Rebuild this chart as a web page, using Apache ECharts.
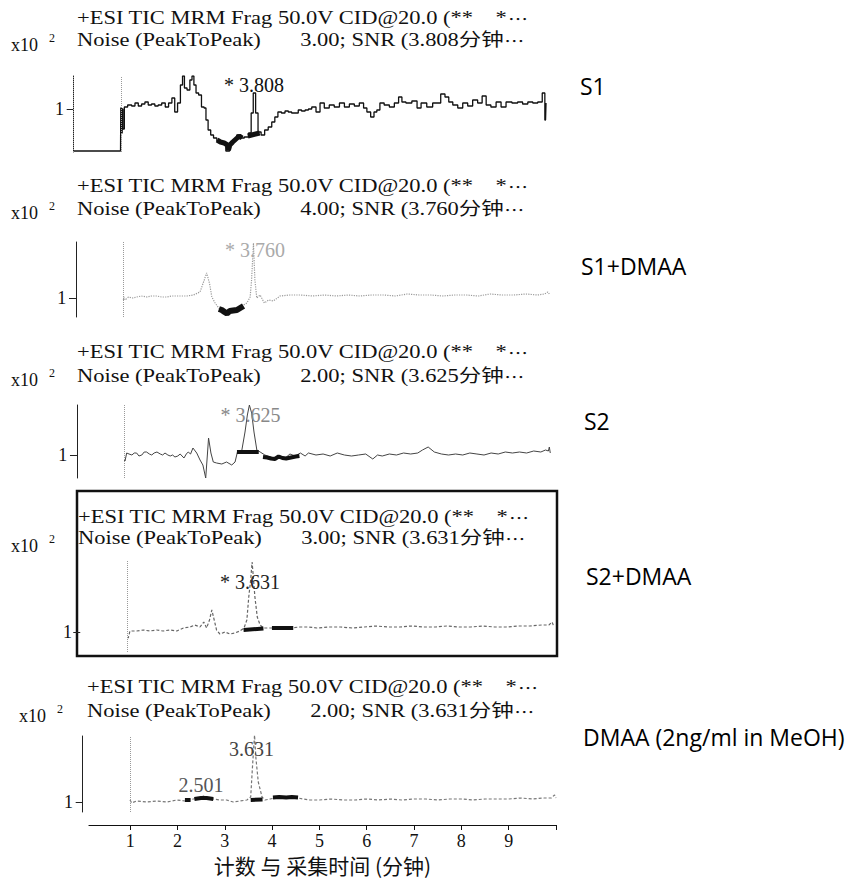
<!DOCTYPE html>
<html><head><meta charset="utf-8">
<script src="https://cdn.jsdelivr.net/npm/echarts@6/dist/echarts.min.js"></script>
<style>html,body{margin:0;padding:0;background:#fff}#c{width:857px;height:878px}</style>
</head><body><div id="c"></div>
<script>
// ---------------- DATA ----------------
const panelNames = ['S1', 'S1+DMAA', 'S2', 'S2+DMAA', 'DMAA (2ng/ml in MeOH)'];
const noiseValues = ['3.00', '4.00', '2.00', '3.00', '2.00'];
const snrTimes = ['3.808', '3.760', '3.625', '3.631', '3.631'];
const peakTimes = [3.808, 3.760, 3.625, 3.631, 3.631];
const peakHeights = [1.16, 1.55, 1.50, 1.70, 1.65];
const peakLabels = ['* 3.808', '* 3.760', '* 3.625', '* 3.631', '3.631'];
const minorPeakTime = 2.501, minorPeakHeight = 1.06, minorPeakLabel = '2.501';
const xTickLabels = [1, 2, 3, 4, 5, 6, 7, 8, 9];
const xTickMarks = [1, 2, 3, 4, 5, 6, 7, 8, 9, 10];
const yTickValues = [1];
const xAxisTitle = '计数 与 采集时间 (分钟)';

// S1
const p1Time = [0.0, 0.99, 1.00, 1.02, 1.03, 1.05, 1.09, 1.19, 1.26, 1.33,
  1.40, 1.47, 1.54, 1.61, 1.68, 1.75, 1.82, 1.90, 1.97, 2.04,
  2.11, 2.16, 2.23, 2.28, 2.32, 2.36, 2.43, 2.48, 2.52, 2.56,
  2.61, 2.67, 2.73, 2.78, 2.81, 2.87, 2.92, 2.99, 3.06, 3.16,
  3.27, 3.32, 3.41, 3.48, 3.55, 3.66, 3.73, 3.77, 3.818, 3.87,
  3.92, 4.00, 4.07, 4.15, 4.22, 4.28, 4.35, 4.43, 4.50, 4.57,
  4.64, 4.71, 4.78, 4.85, 4.93, 4.99, 5.07, 5.17, 5.24, 5.35,
  5.45, 5.56, 5.67, 5.77, 5.88, 5.98, 6.09, 6.16, 6.23, 6.32,
  6.37, 6.44, 6.50, 6.62, 6.72, 6.83, 6.90, 6.97, 7.07, 7.22,
  7.29, 7.39, 7.53, 7.64, 7.71, 7.80, 7.89, 7.96, 8.06, 8.17,
  8.27, 8.38, 8.48, 8.59, 8.67, 8.76, 8.87, 8.98, 9.08, 9.19,
  9.33, 9.43, 9.54, 9.65, 9.75, 9.86, 9.94, 9.97, 9.99];
const p1Value = [0.58, 0.58, 1.01, 0.76, 1.00, 0.80, 1.02, 1.04, 1.03, 1.06,
  1.03, 1.05, 1.07, 1.04, 1.05, 1.03, 1.04, 1.06, 1.02, 1.06,
  1.11, 0.97, 1.06, 1.24, 1.33, 1.21, 1.19, 1.29, 1.33, 1.24,
  1.16, 1.14, 1.02, 1.01, 0.89, 0.79, 0.74, 0.71, 0.68, 0.66,
  0.58, 0.65, 0.69, 0.74, 0.71, 0.72, 0.76, 0.96, 1.16, 0.96,
  0.77, 0.74, 0.79, 0.82, 0.87, 0.92, 0.97, 0.96, 0.98, 0.97,
  0.96, 0.96, 0.99, 0.98, 0.99, 1.00, 1.02, 0.97, 1.06, 1.01,
  1.04, 1.02, 1.06, 1.02, 1.05, 1.03, 1.06, 1.01, 0.97, 0.92,
  0.97, 0.99, 1.06, 1.04, 1.02, 1.06, 1.12, 1.07, 1.06, 1.08,
  1.01, 1.06, 1.02, 1.06, 1.06, 1.15, 1.12, 1.07, 1.04, 1.01,
  1.06, 1.03, 1.09, 1.06, 1.13, 1.04, 1.02, 1.07, 1.02, 1.07,
  1.06, 1.07, 1.05, 1.07, 1.06, 1.07, 1.16, 0.89, 1.06];
const p1BandTime = [3.03, 3.10, 3.18, 3.25, 3.27, 3.30, 3.36, 3.43, 3.50, 3.56, 3.60, 3.68, 3.93];
const p1BandValue = [0.69, 0.67, 0.66, 0.64, 0.59, 0.64, 0.67, 0.70, 0.73, 0.71, null, 0.73, 0.76];

// S1+DMAA
const p2Time = [1.00, 1.015, 1.04, 1.11, 1.20, 1.28, 1.38, 1.50, 1.60, 1.71,
  1.81, 1.92, 2.02, 2.13, 2.23, 2.34, 2.48, 2.62, 2.71, 2.76,
  2.82, 2.87, 2.94, 3.03, 3.11, 3.19, 3.26, 3.36, 3.47, 3.54,
  3.61, 3.68, 3.71, 3.75, 3.78, 3.82, 3.89, 3.98, 4.07, 4.17,
  4.31, 4.52, 4.74, 5.00, 5.25, 5.50, 5.75, 6.00, 6.25, 6.50,
  6.75, 7.00, 7.25, 7.50, 7.75, 8.00, 8.25, 8.50, 8.75, 9.00,
  9.25, 9.50, 9.75, 9.90, 9.97, 10.0];
const p2Value = [0.98, 1.01, 0.98, 1.01, 1.00, 1.01, 1.02, 1.01, 1.02, 1.02,
  1.01, 1.01, 1.02, 1.02, 1.02, 1.02, 1.03, 1.06, 1.18, 1.25,
  1.15, 1.01, 0.95, 0.89, 0.88, 0.85, 0.88, 0.89, 0.91, 0.93,
  0.95, 1.01, 1.18, 1.55, 1.18, 1.00, 1.03, 0.95, 0.98, 0.97,
  1.02, 1.03, 1.03, 1.02, 1.03, 1.02, 1.03, 1.02, 1.03, 1.03,
  1.02, 1.04, 1.03, 1.03, 1.02, 1.03, 1.03, 1.02, 1.04, 1.03,
  1.03, 1.04, 1.03, 1.04, 1.06, 1.04];
const p2BandTime = [3.02, 3.08, 3.14, 3.19, 3.25, 3.32, 3.40, 3.47, 3.54];
const p2BandValue = [0.89, 0.88, 0.86, 0.845, 0.87, 0.875, 0.88, 0.90, 0.92];

// S2
const p3Time = [1.00, 1.015, 1.05, 1.10, 1.16, 1.21, 1.26, 1.31, 1.37, 1.42,
  1.47, 1.53, 1.58, 1.63, 1.69, 1.76, 1.81, 1.86, 1.92, 1.97,
  2.02, 2.07, 2.13, 2.18, 2.26, 2.31, 2.35, 2.40, 2.45, 2.53,
  2.60, 2.66, 2.72, 2.755, 2.78, 2.83, 2.88, 2.95, 3.06, 3.16,
  3.27, 3.34, 3.39, 3.48, 3.55, 3.60, 3.643, 3.69, 3.74, 3.80,
  3.87, 3.97, 4.08, 4.19, 4.29, 4.40, 4.50, 4.61, 4.72, 4.82,
  4.89, 5.05, 5.20, 5.35, 5.50, 5.65, 5.80, 5.95, 6.10, 6.25,
  6.35, 6.45, 6.60, 6.75, 6.90, 7.05, 7.20, 7.30, 7.42, 7.55,
  7.70, 7.85, 8.00, 8.15, 8.30, 8.45, 8.60, 8.75, 8.90, 9.05,
  9.20, 9.35, 9.50, 9.65, 9.80, 9.90, 9.96, 9.98, 10.0];
const p3Value = [0.95, 0.94, 1.02, 1.01, 1.00, 1.02, 1.02, 0.99, 1.00, 1.03,
  1.03, 1.01, 1.00, 1.02, 1.03, 1.01, 1.00, 1.02, 1.00, 0.99,
  1.00, 0.98, 0.99, 1.01, 0.97, 1.01, 1.03, 1.01, 1.07, 1.02,
  0.95, 0.90, 0.77, 1.00, 1.17, 1.02, 0.93, 0.92, 0.91, 0.93,
  0.90, 0.93, 1.03, 1.04, 1.23, 1.40, 1.50, 1.42, 1.23, 1.05,
  1.03, 1.00, 0.98, 0.97, 0.99, 0.97, 1.01, 0.99, 1.02, 0.99,
  1.02, 1.00, 1.01, 0.99, 1.02, 1.00, 0.99, 1.00, 1.01, 0.96,
  1.00, 0.99, 1.01, 1.00, 1.02, 1.01, 1.02, 1.05, 1.08, 1.03,
  1.01, 1.00, 1.01, 1.00, 1.02, 1.01, 1.00, 1.02, 1.01, 1.03,
  1.02, 1.03, 1.02, 1.04, 1.03, 1.05, 1.04, 1.08, 1.02];
const p3BandTime = [3.38, 3.84, 3.88, 3.93, 4.02, 4.10, 4.18, 4.26, 4.34, 4.42, 4.52, 4.62, 4.70];
const p3BandValue = [1.03, 1.03, null, 0.98, 0.975, 0.965, 0.96, 0.985, 0.97, 0.965, 0.975, 0.985, 0.99];

// S2+DMAA
const p4Time = [1.00, 1.014, 1.05, 1.19, 1.33, 1.47, 1.61, 1.75, 1.89, 2.04,
  2.18, 2.32, 2.42, 2.53, 2.61, 2.67, 2.73, 2.78, 2.83, 2.88,
  2.95, 3.06, 3.16, 3.27, 3.37, 3.46, 3.52, 3.56, 3.60, 3.631,
  3.69, 3.74, 3.80, 3.87, 3.97, 4.08, 4.22, 4.43, 4.64, 4.82,
  5.00, 5.25, 5.50, 5.75, 6.00, 6.25, 6.50, 6.75, 7.00, 7.25,
  7.50, 7.75, 8.00, 8.25, 8.50, 8.75, 9.00, 9.25, 9.50, 9.75,
  9.90, 9.97, 10.0];
const p4Value = [0.95, 0.94, 1.01, 1.01, 1.02, 1.01, 1.02, 1.01, 1.02, 1.01,
  1.04, 1.05, 1.07, 1.05, 1.10, 1.04, 1.12, 1.22, 1.12, 1.02,
  0.98, 1.00, 0.98, 0.99, 1.01, 1.04, 1.12, 1.35, 1.52, 1.70,
  1.35, 1.15, 1.07, 1.04, 1.04, 1.04, 1.04, 1.04, 1.05, 1.05,
  1.04, 1.05, 1.05, 1.04, 1.05, 1.06, 1.05, 1.05, 1.06, 1.05,
  1.05, 1.06, 1.05, 1.05, 1.06, 1.05, 1.05, 1.06, 1.06, 1.07,
  1.07, 1.10, 1.06];
const p4BandTime = [3.45, 3.87, 3.95, 4.05, 4.50];
const p4BandValue = [1.02, 1.035, null, 1.04, 1.04];

// DMAA standard
const p5Time = [1.00, 1.035, 1.14, 1.35, 1.56, 1.78, 1.99, 2.16, 2.34, 2.48,
  2.55, 2.62, 2.76, 2.90, 3.04, 3.18, 3.33, 3.47, 3.55, 3.59,
  3.631, 3.66, 3.71, 3.79, 3.85, 3.96, 4.07, 4.24, 4.45, 4.66,
  4.80, 5.00, 5.25, 5.50, 5.75, 6.00, 6.25, 6.50, 6.75, 7.00,
  7.25, 7.50, 7.75, 8.00, 8.25, 8.50, 8.75, 9.00, 9.25, 9.50,
  9.75, 9.90, 9.97, 10.0];
const p5Value = [1.02, 0.99, 1.01, 1.00, 1.01, 1.00, 1.02, 1.01, 1.03, 1.04,
  1.06, 1.04, 1.03, 1.02, 1.02, 1.00, 1.01, 1.02, 1.05, 1.37,
  1.67, 1.44, 1.20, 1.05, 1.02, 1.03, 1.04, 1.04, 1.05, 1.03,
  1.02, 1.02, 1.03, 1.02, 1.02, 1.03, 1.02, 1.03, 1.02, 1.03,
  1.03, 1.02, 1.03, 1.03, 1.02, 1.03, 1.03, 1.03, 1.04, 1.03,
  1.04, 1.04, 1.07, 1.04];
const p5BandTime = [2.16, 2.28, 2.32, 2.36, 2.50, 2.62, 2.76, 2.80, 3.55, 3.80, 3.85, 4.02, 4.15, 4.30, 4.42, 4.55];
const p5BandValue = [1.02, 1.02, null, 1.03, 1.04, 1.04, 1.03, null, 1.02, 1.025, null, 1.045, 1.05, 1.045, 1.05, 1.045];

// ---------------- LAYOUT / STYLE ----------------
const FONT_SERIF = "'Liberation Serif', 'Noto Sans CJK SC', serif";
const FONT_CJK = "'Noto Sans CJK SC', sans-serif";
const FONT_LABEL = "'Open Sans', sans-serif";
const PX_PER_MIN = 47.33;

const L = {
  gridLeft: [68, 70.3, 71.3, 76, 77],
  xMin: [-0.12, -0.12, -0.12, -0.09, -0.12],
  xMax: 10,
  gridTop: [76, 242, 405, 560, 736],
  gridHeight: [76, 75, 73, 92, 76],
  yMin: [0.57, 0.81, 0.77, 0.80, 0.90],
  yMax: [1.33, 1.56, 1.50, 1.72, 1.66],
  showAxisLine: [true, true, true, false, true],
  titleX: [77, 77, 77, 78, 87],
  line1Y: [18, 186, 352, 517, 687],
  line2Y: [40, 209, 376, 538, 711],
  titleScaleX: 1.25,
  x10X: [11, 11, 11, 11, 19],
  x10Y: [45, 213, 380, 546, 716],
  nameX: [580, 581, 584, 586, 583],
  nameY: [86, 266, 421, 576, 737],
  lineColor: ['#111', '#9a9a9a', '#444', '#666', '#777'],
  lineWidth: [1.3, 1.2, 1, 1.2, 1.2],
  lineType: ['solid', 'dotted', 'solid', [3, 2], [3, 2]],
  bandWidth: [5, 6, 4, 4, 4],
  peakColor: ['#111', '#aaa', '#888', '#222', '#444'],
  peakOffset: [[0, -8], [1, 7], [2, 10], [-2, 20], [-3, 12]],
  minorOffset: [0, -11]
};

const traces = [
  [p1Time, p1Value, p1BandTime, p1BandValue],
  [p2Time, p2Value, p2BandTime, p2BandValue],
  [p3Time, p3Value, p3BandTime, p3BandValue],
  [p4Time, p4Value, p4BandTime, p4BandValue],
  [p5Time, p5Value, p5BandTime, p5BandValue]
];

function pairs(t, v) { return t.map((x, i) => [x, v[i] == null ? '-' : v[i]]); }

const grids = [], xAxes = [], yAxes = [], series = [], graphics = [];
for (let i = 0; i < 5; i++) {
  grids.push({ left: L.gridLeft[i], top: L.gridTop[i], width: (L.xMax - L.xMin[i]) * PX_PER_MIN, height: L.gridHeight[i] });
  xAxes.push({ gridIndex: i, type: 'value', min: L.xMin[i], max: L.xMax, show: false });
  yAxes.push({
    gridIndex: i, type: 'value', min: L.yMin[i], max: L.yMax[i],
    axisLine: { show: L.showAxisLine[i], lineStyle: { color: '#222', width: 1 } },
    axisTick: { show: true, customValues: yTickValues, length: 7, lineStyle: { color: '#222' } },
    axisLabel: { show: true, customValues: yTickValues, fontFamily: FONT_SERIF, fontSize: 18, color: '#111', margin: 4 },
    splitLine: { show: false }
  });
  const mlData = [{ xAxis: 1 }];
  if (i === 0) mlData.push({ xAxis: 0 });
  const mpData = [{
    coord: [peakTimes[i], peakHeights[i]],
    label: { formatter: peakLabels[i], color: L.peakColor[i], offset: L.peakOffset[i] }
  }];
  if (i === 4) mpData.push({
    coord: [minorPeakTime, minorPeakHeight],
    label: { formatter: minorPeakLabel, color: '#555', offset: L.minorOffset }
  });
  series.push({
    type: 'line', xAxisIndex: i, yAxisIndex: i, data: pairs(traces[i][0], traces[i][1]),
    symbol: 'none', step: i === 0 ? 'middle' : false, clip: true,
    lineStyle: { color: L.lineColor[i], width: L.lineWidth[i], type: L.lineType[i] },
    markLine: {
      silent: true, symbol: 'none', label: { show: false },
      lineStyle: { color: '#999', width: 1, type: 'dotted' }, data: mlData
    },
    markPoint: {
      symbol: 'circle', symbolSize: 1, itemStyle: { color: 'rgba(0,0,0,0)' },
      label: { show: true, position: 'inside', fontFamily: FONT_SERIF, fontSize: 20 },
      data: mpData
    },
    z: 2
  });
  series.push({
    type: 'line', xAxisIndex: i, yAxisIndex: i, data: pairs(traces[i][2], traces[i][3]),
    symbol: 'none', lineStyle: { color: '#111', width: L.bandWidth[i] }, z: 3
  });

  const serif = { fontFamily: FONT_SERIF, fontSize: 18, fill: '#111', color: '#111', lineHeight: 18 };
  const ell = { fontFamily: FONT_CJK, fontSize: 16, fill: '#111', color: '#111', lineHeight: 14 };
  graphics.push({
    type: 'text', x: L.titleX[i], y: L.line1Y[i], scaleX: L.titleScaleX,
    style: { text: '{m|+ESI TIC MRM Frag 50.0V CID@20.0 (**    *}{e|…}', rich: { m: serif, e: ell }, verticalAlign: 'middle' }
  });
  graphics.push({
    type: 'text', x: L.titleX[i], y: L.line2Y[i], scaleX: L.titleScaleX,
    style: { text: '{m|Noise (PeakToPeak)       ' + noiseValues[i] + '; SNR (' + snrTimes[i] + '分钟}{e|…}', rich: { m: serif, e: ell }, verticalAlign: 'middle' }
  });
  graphics.push({
    type: 'text', x: L.x10X[i], y: L.x10Y[i],
    style: { text: 'x10', fontFamily: FONT_SERIF, fontSize: 18, fill: '#111', verticalAlign: 'middle' }
  });
  graphics.push({
    type: 'text', x: L.x10X[i] + 38, y: L.x10Y[i] - 7,
    style: { text: '2', fontFamily: FONT_SERIF, fontSize: 12, fill: '#111', verticalAlign: 'middle' }
  });
  graphics.push({
    type: 'text', x: L.nameX[i], y: L.nameY[i],
    style: { text: panelNames[i], fontFamily: FONT_LABEL, fontSize: 23, fill: '#000', verticalAlign: 'middle' }
  });
}
// frame around S2+DMAA panel
graphics.push({
  type: 'rect', shape: { x: 77, y: 491, width: 480, height: 165 },
  style: { fill: 'none', stroke: '#111', lineWidth: 2.5 }
});

// bottom time axis
grids.push({ left: 89, top: 824, width: 467, height: 1 });
xAxes.push({
  gridIndex: 5, type: 'value', min: 0.13, max: 10,
  axisLine: { show: true, lineStyle: { color: '#111', width: 1.2 } },
  axisTick: { show: true, customValues: xTickMarks, length: 5, lineStyle: { color: '#111' } },
  axisLabel: { show: true, customValues: xTickLabels, fontFamily: FONT_SERIF, fontSize: 18, color: '#111', margin: 7 },
  splitLine: { show: false },
  name: xAxisTitle, nameLocation: 'middle', nameGap: 29,
  nameTextStyle: { fontFamily: FONT_CJK, fontSize: 21, color: '#111' }
});
yAxes.push({ gridIndex: 5, type: 'value', min: 0, max: 1, show: false });

const chart = echarts.init(document.getElementById('c'), null, { renderer: 'svg' });
chart.setOption({
  animation: false,
  backgroundColor: '#fff',
  grid: grids, xAxis: xAxes, yAxis: yAxes, series: series, graphic: graphics
});
</script></body></html>
